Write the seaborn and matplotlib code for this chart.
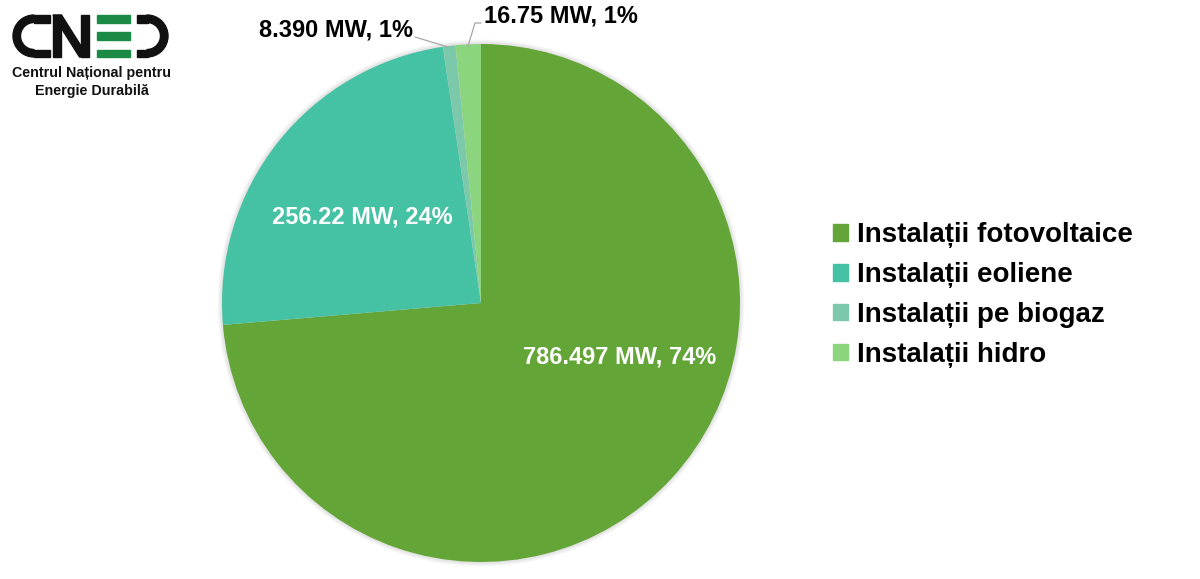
import matplotlib
matplotlib.use("Agg")
import matplotlib.pyplot as plt
import matplotlib.patches as mpatches
import seaborn as sns

sns.set_theme(style="white")
plt.rcParams['font.family'] = ['Liberation Sans', 'DejaVu Sans']
plt.rcParams['text.color'] = 'black'

categories = ["Instalații fotovoltaice", "Instalații eoliene", "Instalații pe biogaz", "Instalații hidro"]
values = [786.497, 256.22, 8.390, 16.75]
value_labels = ["786.497 MW", "256.22 MW", "8.390 MW", "16.75 MW"]
pct_labels = ["74%", "24%", "1%", "1%"]
colors = ["#63A537", "#45C1A4", "#7CC8AA", "#8BD57E"]

W, H = 1200, 579
fig = plt.figure(figsize=(12, 5.79), dpi=100)
fig.patch.set_facecolor("white")

cx, cy, r = 481, 303, 259
ax = fig.add_axes([(cx - r) / W, (H - cy - r) / H, 2 * r / W, 2 * r / H])
# faint soft shadow around the pie
for i in range(1, 6):
    ax.add_patch(mpatches.Circle((0, 0), 1 + i * 0.0035, color="black", alpha=0.025,
                                 zorder=0, clip_on=False, lw=0))
wedges, _ = ax.pie(values, colors=colors, startangle=90, counterclock=False,
                   radius=1, wedgeprops=dict(linewidth=0, zorder=2))
ax.set_xlim(-1, 1)
ax.set_ylim(-1, 1)
ax.set_aspect("auto")
ax.axis("off")

def px(x, y):
    return ((x - cx) / r, (cy - y) / r)

lab = [f"{v}, {p}" for v, p in zip(value_labels, pct_labels)]
fs = 17
ax.text(*px(620, 357), lab[0], color="white", fontsize=fs, fontweight="bold", ha="center", va="center", zorder=5)
ax.text(*px(362, 217), lab[1], color="white", fontsize=fs, fontweight="bold", ha="center", va="center", zorder=5)
ax.text(*px(413, 30), lab[2], color="black", fontsize=fs, fontweight="bold", ha="right", va="center", clip_on=False)
ax.text(*px(484, 16), lab[3], color="black", fontsize=fs, fontweight="bold", ha="left", va="center", clip_on=False)
x1, y1 = px(415, 37); x2, y2 = px(448, 47)
ax.plot([x1, x2], [y1, y2], color="#A6A6A6", lw=0.9, clip_on=False, zorder=5)
x1, y1 = px(468, 46); x2, y2 = px(475, 23); x3, y3 = px(481, 23)
ax.plot([x1, x2, x3], [y1, y2, y3], color="#A6A6A6", lw=0.9, clip_on=False, zorder=5)

handles = [mpatches.Patch(color=c) for c in colors]
leg = fig.legend(handles, categories, loc="center left", bbox_to_anchor=(833 / W, 1 - 295 / H),
                 frameon=False, prop=dict(family="Liberation Sans", size=20, weight="bold"),
                 handlelength=0.55, handleheight=0.55, handletextpad=0.3, labelspacing=0.5,
                 borderaxespad=0, borderpad=0)
for t in leg.get_texts():
    t.set_color("black")

# Logo
lax = fig.add_axes([0, 0, 1, 1], facecolor="none")
lax.set_xlim(0, W)
lax.set_ylim(H, 0)
lax.axis("off")
blk = "#111111"
sw = 7.5
# C
lax.add_patch(mpatches.Wedge((34, 36), 21, 90, 270, width=sw, color=blk))
lax.add_patch(mpatches.Rectangle((33.5, 15), 16.5, sw, color=blk))
lax.add_patch(mpatches.Rectangle((33.5, 57 - sw), 16.5, sw, color=blk))
# N
lax.add_patch(mpatches.Rectangle((53, 15), sw, 42, color=blk))
lax.add_patch(mpatches.Rectangle((81, 15), sw, 42, color=blk))
lax.add_patch(mpatches.Polygon([(53, 15), (61.5, 15), (88, 57), (79.5, 57)], closed=True, color=blk))
# E (green bars)
green = "#1B8A45"
for yb in (15, 32.2, 49.5):
    lax.add_patch(mpatches.Rectangle((97, yb), 33, sw, color=green))
# D
lax.add_patch(mpatches.Wedge((147, 36), 21, -90, 90, width=sw, color=blk))
lax.add_patch(mpatches.Rectangle((137, 15), 10.5, sw, color=blk))
lax.add_patch(mpatches.Rectangle((137, 57 - sw), 10.5, sw, color=blk))
lax.text(92, 73, "Centrul Național pentru", fontsize=10.3, fontweight="bold", ha="center", va="center", color=blk)
lax.text(92, 91, "Energie Durabilă", fontsize=10.3, fontweight="bold", ha="center", va="center", color=blk)

fig.savefig("out.png", dpi=100, facecolor="white")
